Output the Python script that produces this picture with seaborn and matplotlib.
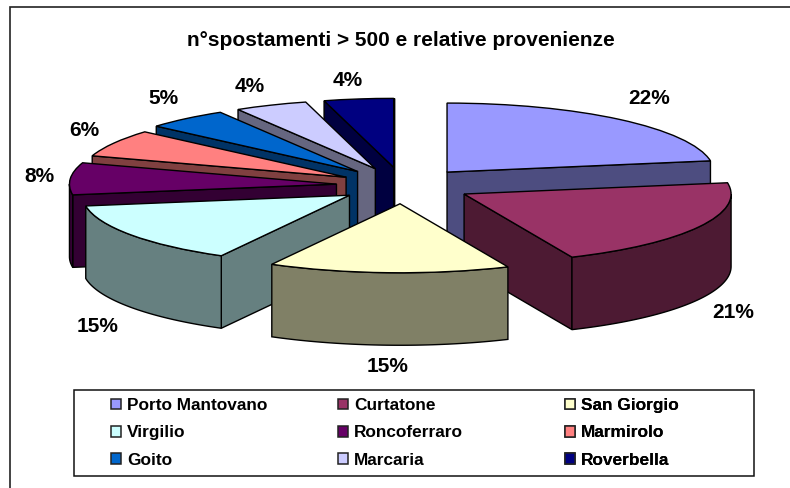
import numpy as np
import seaborn as sns
import matplotlib
matplotlib.use("Agg")
import matplotlib.pyplot as plt
from matplotlib.patches import Patch, Rectangle

names = ["Porto Mantovano", "Curtatone", "San Giorgio", "Virgilio", "Roncoferraro",
         "Marmirolo", "Goito", "Marcaria", "Roverbella"]
shares = [22.4, 21.0, 14.6, 14.55, 7.5, 6.4, 5.0, 4.4, 4.2]
hex_colors = ["#9999FF", "#993366", "#FFFFCC", "#CCFFFF", "#660066",
              "#FF8080", "#0066CC", "#CCCCFF", "#000080"]
title = "n°spostamenti > 500 e relative provenienze"

sns.set_theme(style="white")
plt.rcParams["font.family"] = ["Liberation Sans", "DejaVu Sans"]
palette = sns.color_palette(hex_colors)

W, H = 790, 488
RX, RY, CX, CY, DEPTH = 267.0, 69.0, 403.0, 185.5, 72.5
fig = plt.figure(figsize=(W / 100, H / 100), dpi=100, facecolor="white")

bg = fig.add_axes([0, 0, 1, 1], zorder=0)
bg.set_xlim(0, W); bg.set_ylim(H, 0); bg.axis("off")
bg.plot([10, 10, W], [H, 7, 7], color="#222222", lw=1.2, solid_joinstyle="miter")
bg.text(401, 40, title, ha="center", va="center", fontsize=15, fontweight="bold", color="black")

span_x, span_y = 1.4, 2.5
ax = fig.add_axes([(CX - span_x * RX) / W, 1 - (CY + span_y * RY) / H,
                   2 * span_x * RX / W, 2 * span_y * RY / H], zorder=1)
wedges, _ = ax.pie(shares, colors=palette, startangle=90, counterclock=False,
                   explode=[0.255, 0.26, 0.265, 0.245, 0.25, 0.245, 0.265, 0.265, 0.265],
                   wedgeprops=dict(edgecolor="black", linewidth=1.0))
ax.set_aspect("auto")
ax.set_xlim(-span_x, span_x); ax.set_ylim(-span_y, span_y)
ax.patch.set_alpha(0)

d = DEPTH / RY
order = [8, 7, 6, 5, 4, 0, 1, 3, 2]
for rank, i in enumerate(order):
    w = wedges[i]
    dark = tuple(c * 0.5 for c in palette[i])
    cx, cy = w.center
    z = 2 + rank * 2
    kw = dict(fc=dark, ec="black", lw=1.0, zorder=z)
    # cut faces: only those turned towards the viewer
    for t, normal in ((w.theta1, w.theta1 - 90), (w.theta2, w.theta2 + 90)):
        if np.sin(np.radians(normal)) < 0:
            px = cx + np.cos(np.radians(t)) * w.r
            py = cy + np.sin(np.radians(t)) * w.r
            ax.fill([cx, px, px, cx], [cy, py, py - d, cy - d], **kw)
    lo, hi = max(w.theta1 % 360, 180), min(w.theta1 % 360 + (w.theta2 - w.theta1), 360)
    if hi > lo:
        a = np.radians(np.linspace(lo, hi, 60))
        xs = cx + np.cos(a) * w.r
        ys = cy + np.sin(a) * w.r
        ax.fill(np.r_[xs, xs[::-1]], np.r_[ys, ys[::-1] - d], **kw)
    w.set_zorder(z + 1)

label_xy = [(649, 99), (733, 312), (388, 367), (98, 327), (39, 176),
            (84, 130), (163, 99), (250, 86), (348, 81)]
fg = fig.add_axes([0, 0, 1, 1], zorder=2)
fg.set_xlim(0, W); fg.set_ylim(H, 0); fg.axis("off"); fg.patch.set_alpha(0)
for s, (x, y) in zip(shares, label_xy):
    fg.text(x, y, f"{round(s)}%", ha="center", va="center", fontsize=15, fontweight="bold", color="black")

# legend box with one frameless legend per column, filled row by row
fg.add_patch(Rectangle((74, 390), 680, 86, fc="white", ec="#111111", lw=1.1))
handles = [Patch(fc=c, ec="#222222", lw=1.1, label=n) for c, n in zip(palette, names)]
for col, x0 in enumerate([111, 338, 565]):
    picks = [col + 3 * row for row in range(3)]
    leg = fg.legend([handles[i] for i in picks], [names[i] for i in picks],
                    loc="upper left", bbox_to_anchor=(x0 / W, 1 - 398 / H),
                    bbox_transform=fig.transFigure, frameon=False,
                    prop=dict(size=12.4, weight="bold"), labelcolor="black",
                    handlelength=0.58, handleheight=0.58, handletextpad=0.35,
                    labelspacing=0.72, borderpad=0, borderaxespad=0)
    fg.add_artist(leg)
fig.savefig("out.png", dpi=100)
